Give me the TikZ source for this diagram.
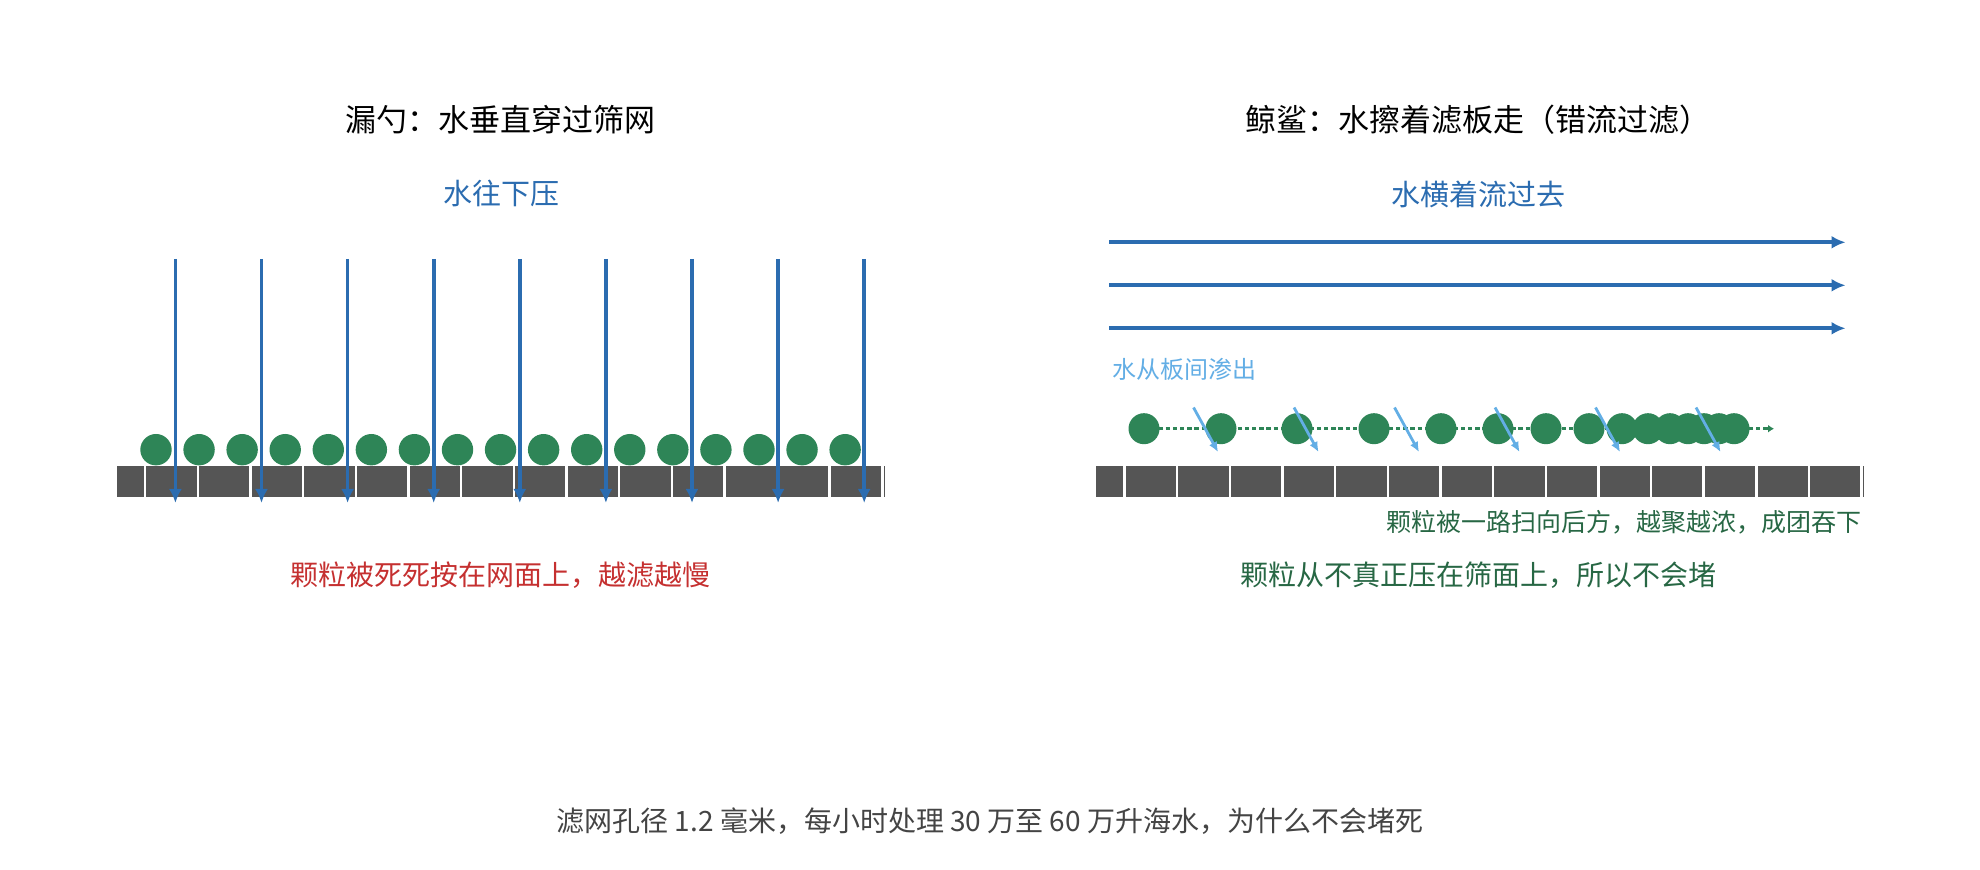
\documentclass[tikz,border=0pt]{standalone}
\usepackage{fontspec}
\newfontfamily\cjk{Noto Sans CJK SC}
\usetikzlibrary{arrows.meta}
\definecolor{flowblue}{RGB}{43,108,176}
\definecolor{seepblue}{RGB}{99,174,229}
\definecolor{particle}{RGB}{46,133,87}
\definecolor{meshgray}{RGB}{85,85,85}
\definecolor{clogred}{RGB}{197,48,48}
\definecolor{sweepgreen}{RGB}{39,103,68}
\definecolor{notegray}{RGB}{68,68,68}
\tikzset{
  heading/.style={font=\cjk\fontsize{15.5pt}{18pt}\selectfont, inner sep=0pt},
  flowlabel/.style={font=\cjk\fontsize{14.5pt}{17pt}\selectfont, text=flowblue, inner sep=0pt},
  smalllabel/.style={font=\cjk\fontsize{12pt}{14pt}\selectfont, inner sep=0pt},
  verdict/.style={font=\cjk\fontsize{14pt}{17pt}\selectfont, inner sep=0pt},
  waterflow/.style={flowblue, line width=1.8pt, -{Latex[length=7pt,width=6.5pt]}},
  seep/.style={seepblue, line width=1.4pt, -{Latex[length=5pt,width=4.5pt]}},
}
\begin{document}
\begin{tikzpicture}[x=0.5pt, y=-0.5pt]
\useasboundingbox (0,0) rectangle (1980,870);

% left panel: sieve spoon
\node[heading] (lefttitle) at (500,120) {漏勺：水垂直穿过筛网};
\node[flowlabel] (leftflow) at (501,193) {水往下压};
\fill[meshgray] (116.7,466) rectangle (884.7,497);
\foreach \k in {0,...,14}
  \draw[white, line width=1.2pt] (145.2+52.65*\k,466) -- ++(0,31);
\foreach \k in {0,...,16}
  \fill[particle] (156+43.07*\k,449.7) circle (15.7);
\foreach \k in {0,...,8}
  \draw[waterflow] (175.4+86.1*\k,259) -- ++(0,244);
\node[verdict, text=clogred] (leftnote) at (500.5,575.5) {颗粒被死死按在网面上，越滤越慢};

% right panel: whale shark
\node[heading] (righttitle) at (1477.5,120) {鲸鲨：水擦着滤板走（错流过滤）};
\node[flowlabel] (rightflow) at (1478.5,194) {水横着流过去};
\foreach \y in {242.3,285.3,328.3}
  \draw[waterflow] (1109,\y) -- (1845.5,\y);
\node[smalllabel, text=seepblue, anchor=west] (seeplabel) at (1112,369) {水从板间渗出};
\fill[meshgray] (1096,466) rectangle (1864,497);
\foreach \k in {0,...,14}
  \draw[white, line width=1.2pt] (1124.5+52.65*\k,466) -- ++(0,31);
\draw[particle, line width=1.5pt, dash pattern=on 2.2pt off 1.4pt,
  -{Latex[length=3pt,width=4pt]}] (1144,428.7) -- (1774,428.7);
\foreach \x in {1144,1221,1297,1374,1441,1498,1546,1589,1622,1648,1670,1688,1704,1719,1734}
  \fill[particle] (\x,428.7) circle (15.5);
\foreach \k in {0,...,5}
  \draw[seep] (1193.5+100.5*\k,407.5) -- ++(24.5,44.5);
\node[smalllabel, font=\cjk\fontsize{12.5pt}{15pt}\selectfont, text=sweepgreen, anchor=east] (sweeplabel) at (1862,522) {颗粒被一路扫向后方，越聚越浓，成团吞下};
\node[verdict, text=sweepgreen] (rightnote) at (1478,575) {颗粒从不真正压在筛面上，所以不会堵};

% question at the bottom
\node[verdict, text=notegray] (question) at (990,821) {滤网孔径 1.2 毫米，每小时处理 30 万至 60 万升海水，为什么不会堵死};
\end{tikzpicture}
\end{document}
